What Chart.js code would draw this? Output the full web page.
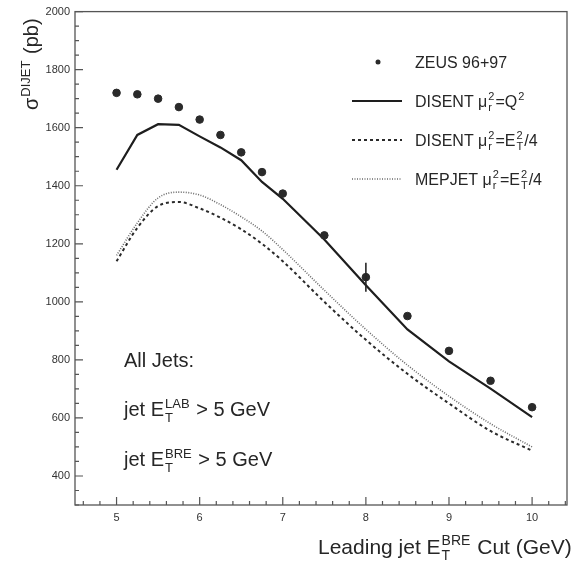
<!DOCTYPE html>
<html>
<head>
<meta charset="utf-8">
<script src="https://cdn.jsdelivr.net/npm/chart.js@4"></script>
<style>
  html, body { margin: 0; padding: 0; background: #fff; }
  #wrap { width: 572px; height: 563px; position: relative; }
</style>
</head>
<body>
<div id="wrap"><canvas id="dijetChart"></canvas></div>
<script>
// Leading jet E_T cut values (GeV)
const etCuts = [5, 5.25, 5.5, 5.75, 6, 6.25, 6.5, 6.75, 7, 7.5, 8, 8.5, 9, 9.5, 10];

// ZEUS 96+97 measured points
const zeusX = [5, 5.25, 5.5, 5.75, 6, 6.25, 6.5, 6.75, 7, 7.5, 8, 8.5, 9, 9.5, 10];
const zeusY = [1720, 1715, 1700, 1671, 1628, 1575, 1515, 1447, 1373, 1229, 1085, 951, 831, 728, 637];
const zeusErr = [0, 0, 0, 0, 0, 0, 0, 0, 0, 0, 50, 0, 0, 0, 0];

// Theory curves
const disentQ2 = [1455, 1575, 1612, 1610, 1570, 1532, 1488, 1413, 1355, 1215, 1057, 905, 795, 701, 603];
const disentEt = [1140, 1255, 1330, 1344, 1322, 1290, 1250, 1200, 1140, 1000, 869, 752, 650, 555, 487];
const mepjetEt = [1160, 1272, 1358, 1378, 1368, 1335, 1293, 1244, 1180, 1040, 905, 782, 675, 580, 500];

// Axis ticks
const xMajorTicks = [5, 6, 7, 8, 9, 10];
const yMajorTicks = [400, 600, 800, 1000, 1200, 1400, 1600, 1800, 2000];

const FONT = '"Liberation Sans", Arial, sans-serif';
const INK = '#262626';

function pairs(xs, ys) {
    return xs.map((x, i) => ({ x: x, y: ys[i] }));
}

// draws text made of plain strings and {sup, sub} pieces
function drawRich(ctx, x, y, parts, size) {
    const small = Math.round(size * 0.66);
    parts.forEach(p => {
        if (typeof p === 'string') {
            ctx.font = size + 'px ' + FONT;
            ctx.fillText(p, x, y);
            x += ctx.measureText(p).width;
        } else {
            ctx.font = small + 'px ' + FONT;
            let w = 0;
            if (p.sup) {
                ctx.fillText(p.sup, x + 1, y - size * 0.42);
                w = Math.max(w, ctx.measureText(p.sup).width);
            }
            if (p.sub) {
                ctx.fillText(p.sub, x + 1, y + size * 0.28);
                w = Math.max(w, ctx.measureText(p.sub).width);
            }
            x += w + 2;
        }
    });
    return x;
}

const framePlugin = {
    id: 'frame',
    afterDraw(chart) {
        const ctx = chart.ctx;
        const a = chart.chartArea;
        const xs = chart.scales.x, ys = chart.scales.y;
        ctx.save();
        ctx.strokeStyle = '#555';
        ctx.lineWidth = 1.3;
        ctx.strokeRect(a.left, a.top, a.right - a.left, a.bottom - a.top);

        // inward tick marks
        ctx.lineWidth = 1.2;
        ctx.beginPath();
        for (let v = 4.6; v < 10.45; v += 0.2) {
            const px = xs.getPixelForValue(v);
            const major = Math.abs(v - Math.round(v)) < 0.01;
            ctx.moveTo(px, a.bottom);
            ctx.lineTo(px, a.bottom - (major ? 8 : 4));
        }
        for (let v = 300; v <= 2000; v += 50) {
            const py = ys.getPixelForValue(v);
            const major = v % 200 === 0;
            ctx.moveTo(a.left, py);
            ctx.lineTo(a.left + (major ? 8 : 4), py);
        }
        ctx.stroke();

        ctx.fillStyle = INK;
        ctx.textBaseline = 'alphabetic';
        ctx.textAlign = 'left';

        // x axis title
        drawRich(ctx, 318, 554, ['Leading jet E', { sup: 'BRE', sub: 'T' }, ' Cut (GeV)'], 21);

        // y axis title (rotated)
        ctx.save();
        ctx.translate(38, 110);
        ctx.rotate(-Math.PI / 2);
        drawRich(ctx, 0, 0, ['σ', { sup: 'DIJET' }, ' (pb)'], 20);
        ctx.restore();

        // annotations
        ctx.font = '20px ' + FONT;
        ctx.fillText('All Jets:', 124, 367);
        drawRich(ctx, 124, 416, ['jet E', { sup: 'LAB', sub: 'T' }, ' > 5 GeV'], 20);
        drawRich(ctx, 124, 466, ['jet E', { sup: 'BRE', sub: 'T' }, ' > 5 GeV'], 20);

        // legend
        const ds = chart.data.datasets;
        const rows = [
            { y: 62, parts: ['ZEUS 96+97'] },
            { y: 101, parts: ['DISENT μ', { sup: '2', sub: 'r' }, '=Q', { sup: '2' }] },
            { y: 140, parts: ['DISENT μ', { sup: '2', sub: 'r' }, '=E', { sup: '2', sub: 'T' }, '/4'] },
            { y: 179, parts: ['MEPJET μ', { sup: '2', sub: 'r' }, '=E', { sup: '2', sub: 'T' }, '/4'] }
        ];
        rows.forEach((r, i) => {
            const d = ds[i];
            if (i === 0) {
                ctx.beginPath();
                ctx.fillStyle = d.pointBackgroundColor;
                ctx.arc(378, r.y, 2.5, 0, Math.PI * 2);
                ctx.fill();
            } else {
                ctx.beginPath();
                ctx.strokeStyle = d.borderColor;
                ctx.lineWidth = d.borderWidth;
                ctx.setLineDash(d.borderDash || []);
                ctx.moveTo(352, r.y);
                ctx.lineTo(402, r.y);
                ctx.stroke();
                ctx.setLineDash([]);
            }
            ctx.fillStyle = INK;
            drawRich(ctx, 415, r.y + 6, r.parts, 16);
        });
        ctx.restore();
    }
};

const errorBarPlugin = {
    id: 'errorBars',
    afterDatasetsDraw(chart) {
        const ctx = chart.ctx;
        const ys = chart.scales.y, xs = chart.scales.x;
        ctx.save();
        ctx.strokeStyle = INK;
        ctx.lineWidth = 1.6;
        zeusErr.forEach((e, i) => {
            if (!e) return;
            const px = xs.getPixelForValue(zeusX[i]);
            ctx.beginPath();
            ctx.moveTo(px, ys.getPixelForValue(zeusY[i] + e));
            ctx.lineTo(px, ys.getPixelForValue(zeusY[i] - e));
            ctx.stroke();
        });
        ctx.restore();
    }
};

const ctx = document.getElementById('dijetChart').getContext('2d');

const chart = new Chart(ctx, {
    type: 'scatter',
    data: {
        datasets: [{
            label: 'ZEUS 96+97',
            data: pairs(zeusX, zeusY),
            showLine: false,
            pointRadius: 3.8,
            pointBackgroundColor: '#2a2a2a',
            pointBorderColor: '#2a2a2a',
            order: 0
        }, {
            label: 'DISENT Q2',
            data: pairs(etCuts, disentQ2),
            showLine: true,
            borderColor: '#1e1e1e',
            borderWidth: 2.2,
            pointRadius: 0,
            tension: 0
        }, {
            label: 'DISENT Et2/4',
            data: pairs(etCuts, disentEt),
            showLine: true,
            borderColor: '#2a2a2a',
            borderWidth: 2,
            borderDash: [3, 3],
            pointRadius: 0,
            cubicInterpolationMode: 'monotone'
        }, {
            label: 'MEPJET Et2/4',
            data: pairs(etCuts, mepjetEt),
            showLine: true,
            borderColor: '#6a6a6a',
            borderWidth: 1.6,
            borderDash: [1, 1.5],
            pointRadius: 0,
            cubicInterpolationMode: 'monotone'
        }]
    },
    options: {
        responsive: true,
        maintainAspectRatio: false,
        animation: false,
        layout: { padding: { left: 0, top: 11, right: 5, bottom: 0 } },
        plugins: {
            legend: { display: false },
            tooltip: { enabled: false }
        },
        scales: {
            x: {
                type: 'linear',
                min: 4.5,
                max: 10.42,
                grid: { display: false, drawTicks: false },
                border: { display: false },
                afterBuildTicks: s => { s.ticks = xMajorTicks.map(v => ({ value: v })); },
                afterFit: s => { s.height = 58; },
                ticks: {
                    padding: 6,
                    color: '#333',
                    font: { family: FONT, size: 11 },
                    maxRotation: 0,
                    callback: v => String(v)
                }
            },
            y: {
                type: 'linear',
                min: 300,
                max: 2000,
                grid: { display: false, drawTicks: false },
                border: { display: false },
                afterBuildTicks: s => { s.ticks = yMajorTicks.map(v => ({ value: v })); },
                afterFit: s => { s.width = 75; },
                ticks: {
                    padding: 5,
                    color: '#333',
                    font: { family: FONT, size: 11 },
                    callback: v => String(v)
                }
            }
        }
    },
    plugins: [framePlugin, errorBarPlugin]
});
</script>
</body>
</html>
